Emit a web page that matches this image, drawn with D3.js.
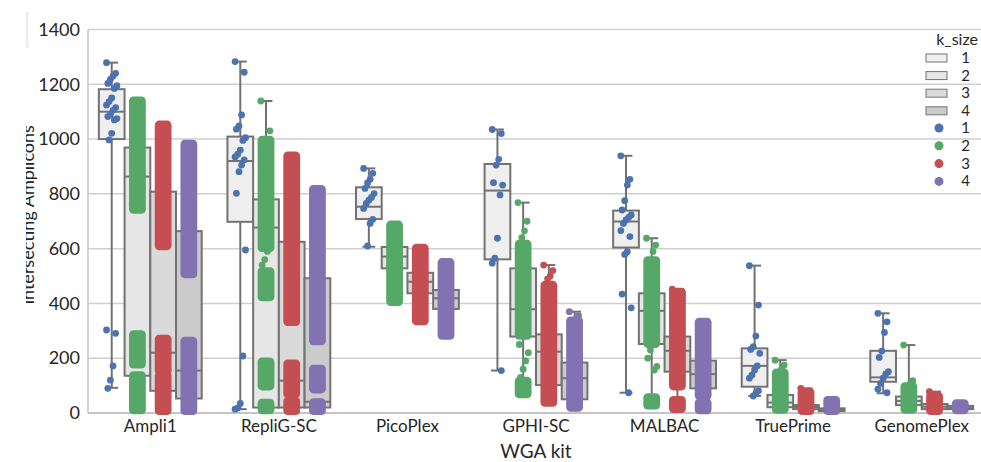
<!DOCTYPE html>
<html>
<head>
<meta charset="utf-8">
<script src="https://cdn.jsdelivr.net/npm/d3@7"></script>
<style>
  body { margin: 0; background: #fff; }
  text { font-family: Lato, "Liberation Sans", sans-serif; fill: #262626; }
</style>
</head>
<body>
<div id="chart"></div>
<script>
// categories
var kits = ["Ampli1", "RepliG-SC", "PicoPlex", "GPHI-SC", "MALBAC", "TruePrime", "GenomePlex"];
var kSizes = ["1", "2", "3", "4"];
var yTicks = [0, 200, 400, 600, 800, 1000, 1200, 1400];

// box stats per kit: [whisker low, q1, median, q3, whisker high]
var boxK1 = [[92, 1000, 1100, 1182, 1279], [14, 698, 920, 1009, 1283], [607, 708, 753, 824, 893],
  [155, 561, 812, 909, 1035], [74, 604, 699, 739, 939], [62, 96, 172, 236, 538], [72, 114, 130, 227, 364]];
var boxK2 = [[11, 136, 863, 969, 1143], [11, 20, 677, 780, 1139], [403, 528, 571, 606, 692],
  [66, 279, 379, 528, 768], [23, 252, 373, 437, 638], [10, 21, 38, 66, 193], [10, 29, 44, 60, 248]];
var boxK3 = [[5, 81, 220, 808, 1055], [5, 20, 118, 625, 942], [333, 437, 479, 512, 605],
  [35, 102, 224, 287, 540], [11, 151, 227, 279, 452], [5, 14, 22, 29, 90], [5, 14, 23, 33, 78]];
var boxK4 = [[5, 53, 155, 664, 991], [5, 20, 41, 492, 820], [280, 380, 419, 449, 553],
  [17, 50, 127, 184, 370], [8, 90, 142, 191, 339], [5, 7, 12, 17, 54], [8, 14, 18, 26, 41]];

// single points (k_size 1)
var pointsK1 = [
  [1279, 1240, 1230, 1218, 1203, 1195, 1185, 1150, 1137, 1124, 1115, 1105, 1090, 1082, 1075, 1070, 1021, 997, 303, 291, 172, 120, 90],
  [1283, 1244, 1088, 1048, 1036, 1005, 995, 960, 945, 935, 924, 905, 881, 802, 595, 208, 35, 18, 14],
  [893, 875, 853, 840, 820, 801, 787, 777, 765, 747, 707, 692, 610],
  [1035, 1020, 926, 905, 841, 832, 796, 638, 565, 547, 155],
  [939, 853, 832, 775, 741, 723, 714, 705, 692, 666, 644, 589, 579, 434, 384, 74],
  [538, 394, 281, 242, 232, 218, 172, 157, 139, 127, 81, 72, 62],
  [364, 333, 294, 226, 203, 151, 142, 127, 108, 87, 74]
];

// dense point clouds: [low, high] value ranges, and stray points
var cloudsK2 = [[[740, 1143], [175, 290], [8, 140]], [[600, 1000], [420, 520], [95, 190], [8, 40]], [[403, 690]],
  [[280, 620], [66, 120]], [[250, 560], [25, 60]], [[10, 150]], [[10, 100]]];
var straysK2 = [[760, 748], [1139, 1030, 590, 560, 540], [], [768, 700, 665, 640, 250, 220, 190, 160, 130],
  [638, 613, 590, 230, 200, 170, 157], [193, 175, 160], [248, 118, 105]];
var cloudsK3 = [[[607, 1055], [150, 273], [5, 139]], [[330, 942], [66, 183], [5, 47]], [[333, 605]],
  [[35, 470]], [[95, 445], [12, 50]], [[5, 80]], [[5, 65]]];
var straysK3 = [[], [], [], [540, 520, 500, 490], [452], [90], [78]];
var cloudsK4 = [[[504, 985], [5, 266]], [[260, 820], [84, 164], [5, 41]], [[280, 553]],
  [[17, 340]], [[60, 335], [8, 41]], [[5, 50]], [[8, 38]]];
var straysK4 = [[], [], [], [370, 355], [], [], []];

var boxes = [boxK1, boxK2, boxK3, boxK4];
var clouds = [[], cloudsK2, cloudsK3, cloudsK4];
var strays = [pointsK1, straysK2, straysK3, straysK4];

var boxFill = ["#efefef", "#e6e6e6", "#dadada", "#cbcbcb"];
var dotColor = ["#4c72b0", "#55a868", "#c44e52", "#8172b2"];
var lineColor = "#727272";

var width = 981, height = 462;
var svg = d3.select("#chart").append("svg")
    .attr("width", width)
    .attr("height", height);

var x = d3.scaleBand().domain(kits).range([86, 986]);
var step = x.bandwidth();
var xk = d3.scaleBand().domain(kSizes).range([0.1 * step, 0.9 * step]);
var bw = xk.bandwidth();
var y = d3.scaleLinear().domain([0, 1400]).range([413, 29.5]);
var r = 3.4;

// grid
svg.append("g").selectAll("line")
    .data(yTicks)
    .enter().append("line")
    .attr("x1", 88).attr("x2", width)
    .attr("y1", function(d) { return y(d); })
    .attr("y2", function(d) { return y(d); })
    .attr("stroke", "#cfcfcf")
    .attr("stroke-width", 1.5);
svg.append("line")
    .attr("x1", 88).attr("x2", 88)
    .attr("y1", y(1400)).attr("y2", y(0))
    .attr("stroke", "#c4c4c4").attr("stroke-width", 1.5);
svg.append("line")
    .attr("x1", 88).attr("x2", width)
    .attr("y1", y(0)).attr("y2", y(0))
    .attr("stroke", "#c4c4c4").attr("stroke-width", 2);

// y axis labels
var yAxis = d3.axisLeft(y).tickValues(yTicks).tickFormat(d3.format("d")).tickSize(0).tickPadding(8);
var gy = svg.append("g").attr("transform", "translate(88,0)").call(yAxis);
gy.select(".domain").remove();
gy.selectAll("text").style("font-size", "18px").attr("fill", "#262626");

// x axis labels
var xAxis = d3.axisBottom(x).tickSize(0).tickPadding(7);
var gx = svg.append("g").attr("transform", "translate(0," + y(0) + ")").call(xAxis);
gx.select(".domain").remove();
gx.selectAll("text").style("font-size", "17px").attr("fill", "#262626");

svg.append("text")
    .attr("x", 536).attr("y", 458)
    .attr("text-anchor", "middle")
    .style("font-size", "19px")
    .text("WGA kit");

// y title, clipped on the left like the source
svg.append("clipPath").attr("id", "ylab")
    .append("rect").attr("x", 26).attr("y", 0).attr("width", 40).attr("height", height);
svg.append("g")
    .attr("clip-path", "url(#ylab)")
    .append("text")
    .attr("transform", "translate(34,215) rotate(-90)")
    .attr("text-anchor", "middle")
    .style("font-size", "18px")
    .text("Intersecting Amplicons");
svg.append("path")
    .attr("d", "M29,13 H27 V47 H29")
    .attr("fill", "none").attr("stroke", "#d6d6d6").attr("stroke-width", 1);

// boxes
kSizes.forEach(function(k, ki) {
    var g = svg.append("g");
    var grp = g.selectAll("g")
        .data(boxes[ki])
        .enter().append("g")
        .attr("transform", function(d, i) { return "translate(" + (x(kits[i]) + xk(k)) + ",0)"; });
    grp.append("line")
        .attr("x1", bw / 2).attr("x2", bw / 2)
        .attr("y1", function(d) { return y(d[0]); })
        .attr("y2", function(d) { return y(d[4]); })
        .attr("stroke", lineColor).attr("stroke-width", 2);
    grp.append("rect")
        .attr("x", 0).attr("width", bw)
        .attr("y", function(d) { return y(d[3]); })
        .attr("height", function(d) { return y(d[1]) - y(d[3]); })
        .attr("fill", boxFill[ki])
        .attr("stroke", lineColor).attr("stroke-width", 2);
    grp.append("line")
        .attr("x1", 0).attr("x2", bw)
        .attr("y1", function(d) { return y(d[2]); })
        .attr("y2", function(d) { return y(d[2]); })
        .attr("stroke", lineColor).attr("stroke-width", 2);
    [0, 4].forEach(function(j) {
        grp.append("line")
            .attr("x1", bw / 4).attr("x2", bw * 3 / 4)
            .attr("y1", function(d) { return y(d[j]); })
            .attr("y2", function(d) { return y(d[j]); })
            .attr("stroke", lineColor).attr("stroke-width", 2);
    });
});

// strip points
kSizes.forEach(function(k, ki) {
    var g = svg.append("g").attr("fill", dotColor[ki]);
    kits.forEach(function(kit, i) {
        var cx = x(kit) + xk(k) + bw / 2;
        clouds[ki].length && clouds[ki][i].forEach(function(s) {
            g.append("rect")
                .attr("x", cx - 5 - r).attr("width", 10 + 2 * r)
                .attr("y", y(s[1]) - r).attr("height", y(s[0]) - y(s[1]) + 2 * r)
                .attr("rx", r + 1);
        });
        g.selectAll(null)
            .data(strays[ki][i])
            .enter().append("circle")
            .attr("cx", function(d, j) { return cx + ((j * 7) % 9 - 4) * 1.3; })
            .attr("cy", function(d) { return y(d); })
            .attr("r", r);
    });
});

// legend
var leg = svg.append("g");
leg.append("text").attr("x", 978).attr("y", 45).attr("text-anchor", "end")
    .style("font-size", "16px").text("k_size");
kSizes.forEach(function(k, i) {
    var cy = 58 + i * 17.6;
    leg.append("rect").attr("x", 926).attr("y", cy - 4).attr("width", 21).attr("height", 8)
        .attr("fill", boxFill[i]).attr("stroke", lineColor).attr("stroke-width", 1);
    leg.append("text").attr("x", 970).attr("y", cy + 5).attr("text-anchor", "end")
        .style("font-size", "15px").text(k);
});
kSizes.forEach(function(k, i) {
    var cy = 128 + i * 17.8;
    leg.append("circle").attr("cx", 939).attr("cy", cy).attr("r", 4.5).attr("fill", dotColor[i]);
    leg.append("text").attr("x", 970).attr("y", cy + 5).attr("text-anchor", "end")
        .style("font-size", "15px").text(k);
});
</script>
</body>
</html>
